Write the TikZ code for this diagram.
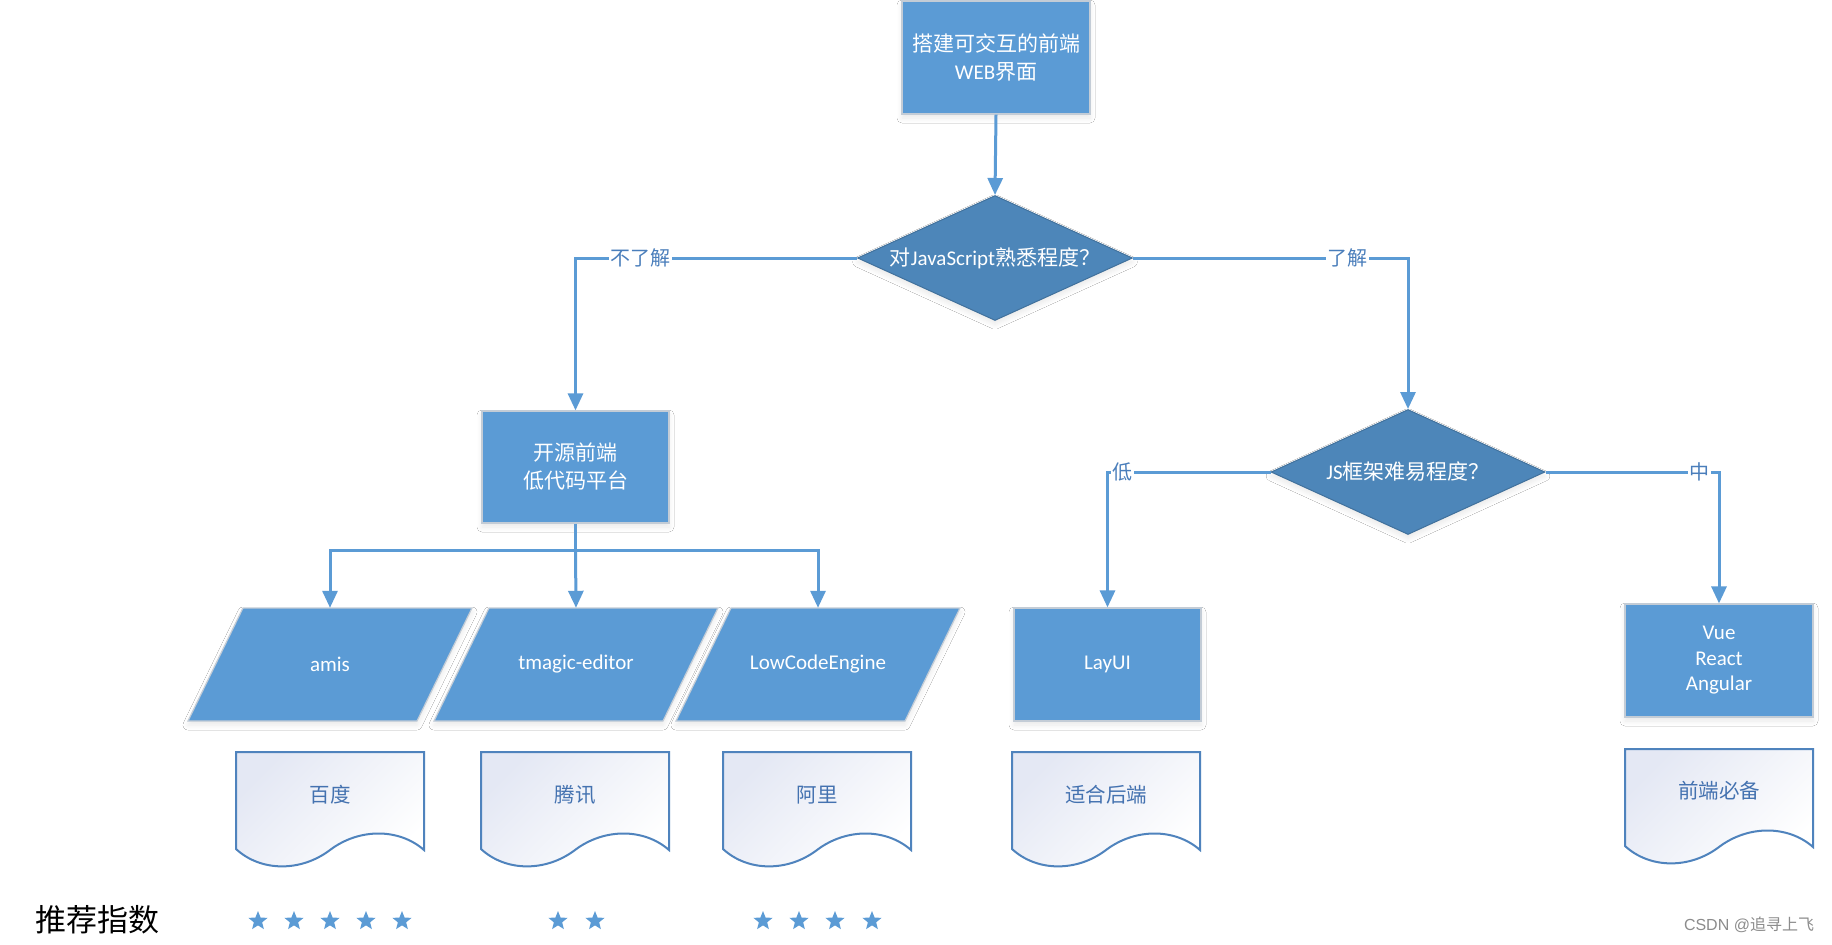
\documentclass[tikz,border=0pt]{standalone}
\usepackage{fontspec}
\setmainfont{Carlito}
\newfontfamily\cjk{Noto Sans CJK SC}
\newfontfamily\wmfont{Liberation Sans}
\usetikzlibrary{shapes.geometric,arrows.meta,shadows.blur,calc}
\definecolor{boxblue}{HTML}{5B9BD5}
\definecolor{boxedge}{HTML}{C3CCD6}
\definecolor{dfill}{HTML}{4D86B9}
\definecolor{dedge}{HTML}{41719C}
\definecolor{linkblue}{HTML}{5B9BD5}
\definecolor{lblblue}{HTML}{4A7EBB}
\definecolor{docedge}{HTML}{4F83BD}
\definecolor{docfill}{HTML}{E4E8F4}
\definecolor{doctext}{HTML}{4472B0}
\definecolor{starblue}{HTML}{5B9BD5}
\newcommand\zh[1]{{\cjk #1}}
\tikzset{
  softshadow/.style={blur shadow={shadow xshift=0pt, shadow yshift=-4pt, shadow opacity=9, shadow blur radius=5pt, shadow blur steps=6}},
  box/.style={rectangle, fill=boxblue, draw=boxedge, line width=1.2pt, minimum width=188pt, minimum height=113pt,
    inner sep=0pt, text=white, align=center, font=\fontsize{21}{28}\selectfont, softshadow},
  decision/.style={diamond, aspect=2.2, fill=dfill, draw=dedge, line width=1pt, minimum width=275pt, minimum height=125pt,
    inner sep=0pt, text=white, align=center, font=\fontsize{21}{28}\selectfont, softshadow},
  parabox/.style={fill=boxblue, draw=boxedge, line width=1.2pt, softshadow},
  paratext/.style={rectangle, draw=none, minimum width=150pt, minimum height=113pt, inner sep=0pt, text=white, font=\fontsize{21}{26}\selectfont},
  docbox/.style={draw=docedge, line width=2pt, top color=docfill, bottom color=white, shading angle=45},
  doctxt/.style={inner sep=0pt, text=doctext, font=\cjk\fontsize{20.5}{24}\selectfont},
  conn/.style={draw=linkblue, line width=3pt},
  arr/.style={conn, -{Triangle[length=17pt,width=15pt]}},
  lbl/.style={fill=white, inner sep=1.5pt, text=lblblue, font=\cjk\fontsize{20}{20}\selectfont},
  rate/.style={star, star points=5, star point ratio=2.3, minimum size=20pt, inner sep=0pt, fill=starblue, draw=none}
}
\newcommand\mypara[2]{\draw[parabox] ({#1-87},{#2-56.5}) -- ({#1+142},{#2-56.5}) -- ({#1+87},{#2+56.5}) -- ({#1-142},{#2+56.5}) -- cycle;}
\newcommand\mydoc[2]{\draw[docbox] (#1,#2) -- ({#1+188},#2) -- ({#1+188},{#2+98})
   .. controls ({#1+163},{#2+76}) and ({#1+123},{#2+76}) .. ({#1+94},{#2+98})
   .. controls ({#1+65},{#2+120}) and ({#1+25},{#2+120}) .. (#1,{#2+97}) -- cycle;}
\begin{document}
\begin{tikzpicture}[x=1pt,y=-1pt]
\useasboundingbox[fill=white] (0,0) rectangle (1832,945);

% main nodes
\node[box] (top) at (996,57.5) {\zh{搭建可交互的前端}\\WEB\zh{界面}};
\node[decision] (q1) at (995,258) {\zh{对}JavaScript\zh{熟悉程度？}};
\node[box, minimum width=187pt, minimum height=112pt] (ky) at (575.5,467) {\zh{开源前端}\\\zh{低代码平台}};
\node[decision, minimum width=274pt] (q2) at (1408,472) {JS\zh{框架难易程度？}};
\node[box, minimum width=187pt] (layui) at (1107.5,664.5) {LayUI};
\node[box, font=\fontsize{21}{25.5}\selectfont] (fw) at (1719,660.5) {Vue\\React\\Angular};

% parallelograms
\mypara{330}{664.5}
\mypara{576}{664.5}
\mypara{818}{664.5}
\node[paratext] (amis) at (330,664.5) {amis};
\node[paratext] (tm) at (576,664.5) {tmagic-editor};
\node[paratext] (lc) at (818,664.5) {LowCodeEngine};

% documents
\mydoc{236}{752}
\mydoc{481}{752}
\mydoc{723}{752}
\mydoc{1012}{752}
\mydoc{1625}{749}
\node[doctxt] (bd) at (330,795) {百度};
\node[doctxt] (tx) at (575,795) {腾讯};
\node[doctxt] (al) at (817,795) {阿里};
\node[doctxt] (hd) at (1106,795) {适合后端};
\node[doctxt] (bb) at (1719,791) {前端必备};

% connectors
\draw[arr] (top.south) -- (q1.north);
\draw[arr] (q1.west) -| node[lbl, pos=0.385] {不了解} (ky.north);
\draw[arr] (q1.east) -| node[lbl, pos=0.39] {了解} (q2.north);
\coordinate (split) at (575.5,550);
\draw[conn] (ky.south) -- (split);
\draw[arr] (split) -| (amis.north);
\draw[arr] (split) -- (tm.north);
\draw[arr] (split) -| (lc.north);
\draw[arr] (q2.west) -| node[lbl, pos=0.455] {低} (layui.north);
\draw[arr] (q2.east) -| node[lbl, pos=0.443] {中} (fw.north);

% rating
\node[font=\cjk\fontsize{31}{31}\selectfont] (tj) at (97,920) {推荐指数};
\foreach \i/\x in {1/258,2/294,3/330,4/366,5/402,6/558,7/595,8/763,9/799,10/835,11/872}{
  \node[rate] (s\i) at (\x,921) {};
}
\node[font=\wmfont\fontsize{16}{16}\selectfont, text=black!45] (wm) at (1749,925) {CSDN @\zh{追寻上飞}};
\end{tikzpicture}
\end{document}
